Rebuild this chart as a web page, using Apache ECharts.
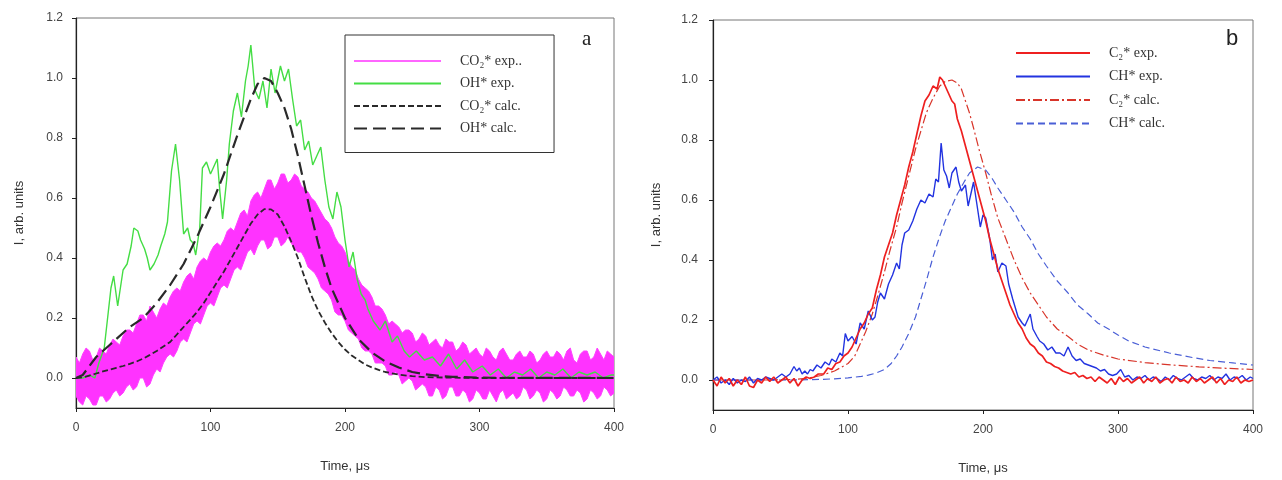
<!DOCTYPE html>
<html>
<head>
<meta charset="utf-8">
<script src="https://cdn.jsdelivr.net/npm/echarts@6/dist/echarts.min.js"></script>
<style>
  html, body { margin: 0; padding: 0; background: #fff; }
  #main { width: 1282px; height: 480px; }
</style>
</head>
<body>
<div id="main"></div>
<script>
// tick labels
var timeTicks = [0, 100, 200, 300, 400];
var yTicks = [0, 0.2, 0.4, 0.6, 0.8, 1.0, 1.2];

// panel a : CO2* exp. noisy band, read as lower / upper edge every 2.5 us
var co2Times = [];
for (var k = 0; k <= 160; k++) co2Times.push(k * 2.5);
var co2Lower = [
  -0.06,-0.08,-0.09,-0.06,-0.07,-0.09,-0.09,-0.06,-0.06,-0.08,-0.07,-0.05,-0.04,-0.06,-0.05,-0.03,-0.02,-0.04,-0.03,0.00,
  0.00,-0.03,-0.02,0.01,0.03,0.02,0.05,0.07,0.08,0.07,0.09,0.12,0.13,0.12,0.15,0.18,0.19,0.18,0.21,0.24,
  0.25,0.24,0.27,0.30,0.31,0.30,0.33,0.36,0.37,0.36,0.39,0.42,0.43,0.41,0.44,0.46,0.46,0.43,0.44,0.47,
  0.47,0.44,0.45,0.47,0.45,0.43,0.42,0.42,0.40,0.37,0.36,0.35,0.33,0.30,0.29,0.28,0.26,0.22,0.21,0.21,
  0.19,0.16,0.15,0.14,0.13,0.10,0.09,0.09,0.08,0.05,0.05,0.05,0.04,0.01,0.01,0.02,0.01,-0.02,-0.01,0.00,
  -0.01,-0.04,-0.03,-0.02,-0.03,-0.06,-0.06,-0.03,-0.04,-0.07,-0.06,-0.03,-0.03,-0.06,-0.06,-0.04,-0.05,-0.08,-0.07,-0.04,
  -0.05,-0.07,-0.07,-0.04,-0.06,-0.08,-0.05,-0.04,-0.07,-0.06,-0.05,-0.07,-0.06,-0.03,-0.04,-0.07,-0.06,-0.04,-0.05,-0.08,
  -0.07,-0.04,-0.05,-0.07,-0.06,-0.03,-0.04,-0.06,-0.06,-0.04,-0.05,-0.08,-0.07,-0.04,-0.05,-0.07,-0.06,-0.03,-0.04,-0.06,
  -0.05];
var co2Upper = [
  0.07,0.05,0.08,0.10,0.09,0.06,0.07,0.10,0.09,0.08,0.11,0.13,0.12,0.11,0.14,0.16,0.16,0.15,0.18,0.21,
  0.21,0.19,0.24,0.22,0.20,0.23,0.25,0.24,0.27,0.29,0.30,0.29,0.32,0.34,0.35,0.33,0.37,0.39,0.40,0.39,
  0.42,0.44,0.45,0.44,0.46,0.49,0.50,0.49,0.52,0.55,0.56,0.54,0.59,0.61,0.62,0.60,0.63,0.66,0.66,0.63,
  0.65,0.68,0.68,0.65,0.66,0.68,0.67,0.64,0.63,0.62,0.60,0.59,0.57,0.55,0.53,0.52,0.50,0.47,0.45,0.44,
  0.42,0.39,0.37,0.36,0.33,0.31,0.30,0.29,0.27,0.24,0.24,0.23,0.21,0.18,0.19,0.18,0.17,0.15,0.16,0.16,
  0.15,0.12,0.13,0.15,0.14,0.11,0.12,0.13,0.11,0.10,0.13,0.12,0.12,0.09,0.10,0.12,0.11,0.08,0.09,0.10,
  0.08,0.07,0.10,0.09,0.07,0.06,0.09,0.10,0.08,0.06,0.06,0.08,0.09,0.07,0.07,0.09,0.08,0.05,0.06,0.08,
  0.09,0.07,0.07,0.09,0.08,0.06,0.09,0.10,0.06,0.05,0.08,0.09,0.09,0.06,0.07,0.10,0.08,0.06,0.09,0.08,
  0.07];

// panel a : OH* exp. [time, I]
var ohExp = [[0,0],[5,0.0],[10,0.01],[14,0.0],[17,0.05],[21,0.10],[24,0.22],[26,0.30],[28,0.34],[31,0.24],[35,0.36],[38,0.38],
  [41,0.44],[43,0.50],[46,0.49],[48,0.46],[51,0.43],[53,0.40],[55,0.36],[58,0.38],[61,0.41],[63,0.44],[66,0.48],[68,0.52],
  [71,0.69],[74,0.78],[77,0.66],[80,0.48],[83,0.50],[85,0.46],[87,0.45],[89,0.41],[92,0.50],[94,0.70],[97,0.72],[100,0.68],
  [102,0.70],[105,0.73],[107,0.62],[109,0.53],[112,0.66],[114,0.78],[117,0.89],[120,0.95],[123,0.87],[126,0.99],[128,1.04],[130,1.11],
  [133,0.96],[136,0.93],[139,0.99],[142,0.90],[145,1.03],[148,0.95],[152,1.04],[155,0.99],[158,1.03],[161,0.93],[164,0.84],
  [167,0.86],[170,0.76],[173,0.79],[176,0.71],[179,0.74],[182,0.77],[185,0.66],[188,0.57],[191,0.53],[194,0.62],[197,0.57],
  [200,0.46],[203,0.37],[206,0.42],[209,0.33],[212,0.28],[215,0.26],[217,0.23],[221,0.19],[226,0.16],[230,0.19],[235,0.12],
  [239,0.14],[244,0.09],[248,0.07],[253,0.09],[259,0.06],[265,0.07],[271,0.04],[277,0.08],[283,0.03],[289,0.06],[295,0.02],
  [302,0.04],[308,0.01],[314,0.03],[320,0.0],[326,0.02],[332,0.01],[338,0.03],[344,0.0],[350,0.02],[356,0.01],[362,0.03],
  [368,0.0],[374,0.02],[380,0.01],[386,0.02],[392,0.0],[398,0.01],[400,0.01]];

// panel a : calculated
var co2Calc = [[0,0],[5,0.002],[10,0.008],[15,0.015],[20,0.022],[25,0.028],[30,0.034],[35,0.04],[40,0.047],[45,0.055],
  [50,0.065],[55,0.077],[60,0.09],[65,0.105],[70,0.12],[75,0.145],[80,0.17],[85,0.195],[90,0.22],[95,0.25],[100,0.285],
  [105,0.32],[110,0.355],[115,0.395],[120,0.435],[125,0.475],[130,0.515],[135,0.545],[140,0.563],[145,0.562],[150,0.545],
  [155,0.505],[160,0.455],[165,0.40],[170,0.335],[175,0.275],[180,0.225],[185,0.185],[190,0.15],[195,0.12],[200,0.095],
  [205,0.075],[210,0.06],[215,0.045],[220,0.035],[225,0.027],[230,0.02],[240,0.011],[250,0.006],[260,0.003],[280,0.001],
  [300,0],[400,0]];
var ohCalc = [[0,0],[5,0.01],[10,0.04],[15,0.07],[20,0.09],[25,0.11],[30,0.13],[40,0.17],[50,0.20],[60,0.25],[70,0.31],
  [80,0.38],[90,0.47],[100,0.57],[110,0.68],[120,0.81],[130,0.93],[135,0.98],[140,1.0],[145,0.99],[150,0.95],[155,0.90],
  [160,0.83],[165,0.74],[170,0.64],[175,0.54],[180,0.45],[185,0.37],[190,0.30],[195,0.25],[200,0.20],[210,0.13],[220,0.085],
  [230,0.055],[240,0.035],[250,0.02],[260,0.012],[270,0.007],[280,0.004],[300,0.001],[400,0]];

// panel b : experiment
var c2Exp = [[0,0.0],[3,-0.02],[6,0.01],[9,-0.01],[12,0.005],[15,-0.02],[18,0.0],[21,-0.015],[24,0.01],[27,-0.02],[30,-0.025],
  [33,0.0],[36,-0.01],[39,0.01],[42,-0.005],[45,0.01],[48,-0.01],[51,0.0],[54,0.01],[57,-0.01],[60,0.005],[63,-0.02],[66,0.0],
  [69,0.01],[72,0.005],[75,0.01],[78,0.02],[82,0.02],[85,0.04],[88,0.035],[91,0.055],[94,0.06],[97,0.08],[100,0.09],[103,0.11],
  [106,0.14],[109,0.17],[112,0.19],[115,0.22],[118,0.24],[121,0.30],[124,0.35],[127,0.41],[130,0.45],[133,0.49],[136,0.55],
  [139,0.60],[142,0.65],[145,0.71],[148,0.76],[151,0.82],[154,0.88],[157,0.93],[160,0.95],[163,0.98],[166,0.97],[168,1.01],
  [170,1.0],[172,0.98],[174,0.96],[177,0.93],[179,0.92],[181,0.87],[184,0.83],[187,0.78],[190,0.73],[193,0.68],[196,0.63],
  [199,0.58],[202,0.53],[205,0.47],[208,0.42],[211,0.37],[214,0.33],[217,0.29],[220,0.25],[223,0.22],[226,0.19],[229,0.17],
  [232,0.14],[235,0.12],[238,0.11],[241,0.09],[244,0.08],[247,0.06],[250,0.055],[253,0.045],[256,0.04],[259,0.03],[262,0.025],
  [265,0.02],[268,0.025],[271,0.01],[274,0.015],[277,0.005],[280,0.01],[283,-0.005],[286,0.01],[289,0.0],[292,-0.01],[295,0.005],
  [298,-0.015],[301,0.01],[304,-0.005],[307,0.005],[310,-0.01],[313,0.0],[316,0.01],[319,-0.01],[322,0.005],[325,-0.005],
  [328,0.01],[331,-0.01],[334,0.0],[337,0.005],[340,-0.01],[343,0.01],[346,-0.005],[349,0.0],[352,-0.01],[355,0.01],[358,-0.005],
  [361,0.005],[364,-0.01],[367,0.0],[370,0.01],[373,-0.01],[376,0.005],[379,-0.015],[382,0.0],[385,-0.005],[388,0.01],[391,-0.01],
  [394,0.0],[397,-0.005],[400,0.0]];
var chExp = [[0,0.0],[3,0.01],[6,-0.01],[9,0.0],[12,-0.015],[15,0.005],[18,-0.01],[21,0.0],[24,-0.005],[27,0.01],[30,-0.01],
  [33,0.005],[36,0.0],[39,0.01],[42,0.005],[45,0.0],[48,0.01],[51,0.02],[54,0.01],[57,0.02],[60,0.045],[62,0.03],[64,0.04],
  [66,0.02],[68,0.03],[70,0.02],[72,0.035],[74,0.03],[77,0.05],[80,0.04],[83,0.06],[86,0.05],[88,0.07],[91,0.06],[94,0.09],
  [96,0.08],[98,0.155],[100,0.13],[103,0.145],[106,0.12],[109,0.19],[112,0.17],[115,0.23],[118,0.20],[120,0.21],[122,0.26],
  [124,0.29],[127,0.27],[130,0.32],[133,0.35],[136,0.39],[138,0.37],[140,0.45],[142,0.49],[145,0.50],[148,0.53],[151,0.57],
  [154,0.60],[157,0.59],[160,0.62],[163,0.61],[165,0.67],[167,0.66],[169,0.79],[171,0.70],[173,0.68],[175,0.64],[177,0.69],
  [180,0.71],[182,0.66],[184,0.63],[187,0.65],[189,0.58],[191,0.62],[193,0.66],[195,0.60],[198,0.51],[200,0.55],[202,0.54],
  [205,0.47],[207,0.40],[209,0.42],[211,0.36],[214,0.39],[217,0.38],[219,0.32],[222,0.27],[224,0.24],[226,0.21],[229,0.19],
  [231,0.18],[233,0.20],[235,0.22],[237,0.17],[240,0.145],[242,0.13],[245,0.12],[248,0.10],[251,0.11],[254,0.09],[257,0.09],
  [260,0.08],[263,0.11],[266,0.08],[269,0.065],[272,0.07],[275,0.055],[278,0.05],[281,0.045],[284,0.04],[287,0.03],[290,0.035],
  [293,0.02],[296,0.015],[299,0.02],[302,0.035],[305,0.01],[308,0.015],[311,0.0],[314,0.01],[317,0.005],[320,0.015],[323,0.0],
  [326,0.01],[329,0.005],[332,-0.005],[335,0.01],[338,0.0],[341,0.015],[344,0.005],[347,0.0],[350,0.01],[353,0.02],[356,0.005],
  [359,0.0],[362,0.01],[365,0.005],[368,0.015],[371,0.0],[374,0.01],[377,0.005],[380,0.02],[383,0.0],[386,0.01],[389,0.005],
  [392,0.015],[395,0.0],[398,0.01],[400,0.005]];

// panel b : calculated
var c2Calc = [[0,0],[40,0],[60,0.002],[70,0.006],[80,0.015],[90,0.03],[100,0.055],[105,0.08],[109,0.12],[113,0.16],[118,0.22],
  [122,0.28],[127,0.36],[131,0.43],[136,0.51],[140,0.59],[145,0.68],[150,0.77],[154,0.83],[158,0.89],[163,0.94],[168,0.98],
  [172,0.995],[177,1.0],[181,0.99],[184,0.97],[187,0.93],[190,0.89],[193,0.84],[197,0.77],[202,0.69],[206,0.62],[211,0.54],
  [217,0.47],[223,0.40],[229,0.34],[235,0.29],[241,0.25],[247,0.21],[255,0.17],[263,0.145],[270,0.12],[278,0.10],[290,0.082],
  [300,0.07],[320,0.058],[340,0.05],[360,0.044],[380,0.039],[400,0.035]];
var chCalc = [[0,0],[60,0],[80,0.002],[90,0.004],[100,0.007],[110,0.012],[115,0.016],[120,0.022],[127,0.035],[132,0.055],
  [136,0.08],[140,0.11],[145,0.155],[150,0.21],[154,0.27],[158,0.33],[163,0.41],[168,0.48],[172,0.53],[177,0.58],[181,0.62],
  [186,0.66],[190,0.69],[196,0.71],[202,0.70],[207,0.67],[211,0.64],[217,0.60],[223,0.56],[229,0.51],[235,0.47],[241,0.42],
  [247,0.38],[255,0.33],[263,0.29],[270,0.25],[278,0.22],[285,0.19],[293,0.17],[300,0.15],[308,0.13],[320,0.11],[338,0.09],
  [355,0.075],[368,0.065],[385,0.057],[400,0.05]];

var N_CO2E = 'CO\u2082* exp..', N_OHE = 'OH* exp.', N_CO2C = 'CO\u2082* calc.', N_OHC = 'OH* calc.';
var N_C2E = 'C\u2082* exp.', N_CHE = 'CH* exp.', N_C2C = 'C\u2082* calc.', N_CHC = 'CH* calc.';

var chart = echarts.init(document.getElementById('main'));

function xAx(idx) {
  return {
    type: 'value', gridIndex: idx, min: 0, max: 400, interval: 100,
    name: 'Time, \u03bcs', nameLocation: 'middle', nameGap: 52,
    nameTextStyle: { fontFamily: 'Liberation Sans', fontSize: 13, color: '#333' },
    axisLine: { onZero: false, lineStyle: { color: '#222', width: 1.2 } },
    axisTick: { length: 4, lineStyle: { color: '#222' } },
    axisLabel: { fontFamily: 'Liberation Sans', fontSize: 12, color: '#444', margin: 14 },
    splitLine: { show: false }
  };
}
function yAx(idx) {
  return {
    type: 'value', gridIndex: idx, min: -0.1, max: 1.2, interval: 0.1,
    name: 'I, arb. units', nameLocation: 'middle', nameGap: 50,
    nameTextStyle: { fontFamily: 'Liberation Sans', fontSize: 13, color: '#333' },
    axisLine: { show: true, lineStyle: { color: '#222', width: 1.2 } },
    axisTick: { show: true, length: 4, customValues: yTicks, lineStyle: { color: '#222' } },
    axisLabel: { fontFamily: 'Liberation Sans', fontSize: 12, color: '#444', margin: idx ? 15 : 13,
      customValues: yTicks, formatter: function (v) { return v.toFixed(1); } },
    splitLine: { show: false }
  };
}
function ln(name, data, idx, color, width, dash, z) {
  return {
    name: name, type: 'line', xAxisIndex: idx, yAxisIndex: idx, data: data,
    showSymbol: false, symbol: 'none', smooth: false, z: z || 2,
    lineStyle: { color: color, width: width, type: dash || 'solid' },
    itemStyle: { color: color }
  };
}

var legendText = { fontFamily: 'Liberation Serif', fontSize: 14, color: '#333', padding: [0, 0, 0, 14] };

var option = {
  backgroundColor: '#fff',
  animation: false,
  title: [
    { text: 'a', left: 577, top: 24, textStyle: { fontFamily: 'Liberation Serif', fontSize: 21, fontWeight: 'normal', color: '#222' } },
    { text: 'b', left: 1221, top: 23, textStyle: { fontFamily: 'Liberation Sans', fontSize: 22, fontWeight: 'normal', color: '#222' } }
  ],
  grid: [
    { left: 76, top: 18, width: 538, height: 390, show: true, borderColor: '#777', borderWidth: 1 },
    { left: 713, top: 20, width: 540, height: 390, show: true, borderColor: '#777', borderWidth: 1 }
  ],
  legend: [
    {
      orient: 'vertical', left: 345, top: 35, itemWidth: 87, itemHeight: 14, itemGap: 8.5,
      padding: [19, 32, 17, 8], borderColor: '#333', borderWidth: 1,
      textStyle: legendText, selectedMode: false, itemStyle: { opacity: 0 },
      data: [
        { name: N_CO2E, icon: 'path://M0,0H80V1.4H0Z', itemStyle: { opacity: 1 } },
        N_OHE, N_CO2C, N_OHC
      ]
    },
    {
      orient: 'vertical', left: 1010, top: 41, itemWidth: 74, itemHeight: 14, itemGap: 9.5,
      textStyle: legendText, selectedMode: false, itemStyle: { opacity: 0 },
      data: [N_C2E, N_CHE, N_C2C, N_CHC]
    }
  ],
  xAxis: [xAx(0), xAx(1)],
  yAxis: [yAx(0), yAx(1)],
  series: [
    {
      name: N_CO2E, type: 'custom', xAxisIndex: 0, yAxisIndex: 0,
      data: [[0, 0]], clip: true,
      itemStyle: { color: '#ff33ff' },
      renderItem: function (params, api) {
        var pts = [];
        for (var i = 0; i < co2Times.length; i++) pts.push(api.coord([co2Times[i], co2Upper[i]]));
        for (var j = co2Times.length - 1; j >= 0; j--) pts.push(api.coord([co2Times[j], co2Lower[j]]));
        return { type: 'polygon', shape: { points: pts }, style: { fill: '#ff33ff', stroke: '#ff40ff', lineWidth: 1 } };
      }
    },
    ln(N_OHE, ohExp, 0, '#44dd44', 1.4, 'solid', 3),
    ln(N_CO2C, co2Calc, 0, '#2a2a2a', 1.8, [6, 3], 4),
    ln(N_OHC, ohCalc, 0, '#2a2a2a', 2.2, [13, 6], 4),
    ln(N_C2C, c2Calc, 1, '#d8352a', 1.2, [9, 3, 2, 3], 2),
    ln(N_CHC, chCalc, 1, '#4a5fd6', 1.2, [7, 4], 2),
    ln(N_CHE, chExp, 1, '#2233e0', 1.4, 'solid', 3),
    ln(N_C2E, c2Exp, 1, '#ee2020', 1.7, 'solid', 3)
  ]
};

chart.setOption(option);
</script>
</body>
</html>
